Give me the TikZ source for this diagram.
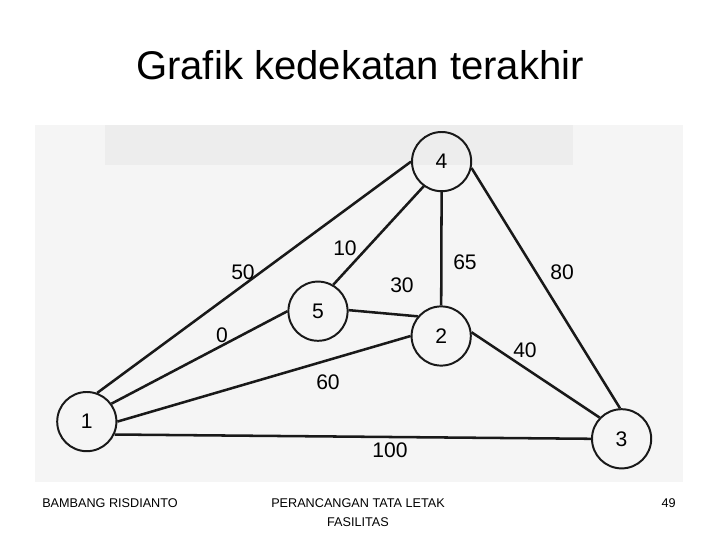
\documentclass[tikz,border=0pt]{standalone}
\usepackage{fontspec}
\setmainfont{Liberation Sans}

\tikzset{
	vertex/.style={circle, draw=black!90, line width=1.4pt, minimum size=1.48cm, inner sep=0pt, font=\fontsize{15}{17}\selectfont},
	edge/.style={draw=black!90, line width=1.8pt},
	weight/.style={text=black, inner sep=0pt, font=\fontsize{15}{17}\selectfont},
	footer/.style={inner sep=0pt, font=\fontsize{9}{11}\selectfont}
}

\begin{document}
\begin{tikzpicture}
	\useasboundingbox (0,0) rectangle (18,13.5);
	% Scan
	\fill[black!4] (0.875,1.45) rectangle (17.075,10.375);
	\fill[black!7] (2.625,9.375) rectangle (14.325,10.375);
	% Title
	\node[anchor=base, font=\fontsize{28.5}{34}\selectfont] (title) at (9.0,11.5) {Grafik kedekatan terakhir};
	% Vertices
	\node[vertex] (n1) at (2.17,2.96) {1};
	\node[vertex] (n2) at (11.03,5.1) {2};
	\node[vertex] (n3) at (15.54,2.53) {3};
	\node[vertex] (n4) at (11.04,9.46) {4};
	\node[vertex] (n5) at (7.95,5.72) {5};
	% Edges
	\foreach \a/\b in {n1.70/n4.180, n1.36/n5.180, n1.0/n2.180, n1.335/n3.180,
			n5.60/n4.234, n5.2/n2.140, n4.270/n2.90, n4.348/n3.93, n2.7/n3.136}
		\draw[edge] (\a) -- (\b);
	% Weights
	\node[weight] (w14) at (6.075,6.7) {50};
	\node[weight] (w54) at (8.625,7.3) {10};
	\node[weight] (w52) at (10.05,6.375) {30};
	\node[weight] (w42) at (11.625,6.95) {65};
	\node[weight] (w43) at (14.05,6.7) {80};
	\node[weight] (w15) at (5.55,5.125) {0};
	\node[weight] (w12) at (8.2,3.95) {60};
	\node[weight] (w23) at (13.125,4.75) {40};
	\node[weight] (w13) at (9.75,2.25) {100};
	% Footer
	\node[footer, anchor=base west] (author) at (1.05,0.8) {BAMBANG RISDIANTO};
	\node[footer, anchor=base] (course) at (8.95,0.8) {PERANCANGAN TATA LETAK};
	\node[footer, anchor=base] (course2) at (8.95,0.33) {FASILITAS};
	\node[footer, anchor=base east] (page) at (16.9,0.8) {49};
\end{tikzpicture}
\end{document}
